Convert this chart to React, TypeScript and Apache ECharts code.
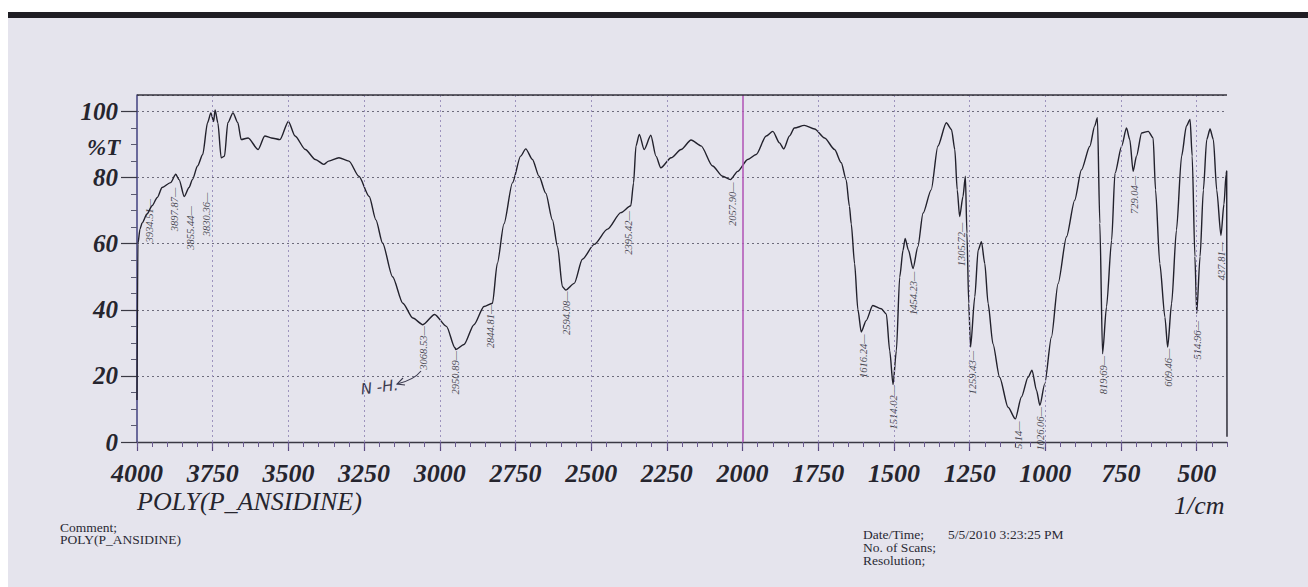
import React, { useEffect, useRef } from "react";
import * as echarts from "echarts";

// ---------- data ----------
// wavenumber (1/cm), %T
const SPECTRUM_OH_NH: [number, number][] = [
  [4000, 12.7], [3997, 60], [3990, 64.5], [3983, 66.3], [3967, 69], [3950, 71.5], [3933, 74],
  [3917, 77], [3889, 78.5], [3872, 81], [3861, 79.4], [3844, 74.3], [3828, 77], [3817, 79.4],
  [3800, 83.5], [3783, 87], [3767, 96.6], [3756, 99.6], [3747, 97], [3742, 100.5], [3733, 96.6],
  [3722, 86], [3711, 86.5], [3700, 96.6], [3683, 99.6], [3667, 96.6], [3656, 91.5], [3633, 92],
  [3600, 88.5], [3578, 92.6], [3556, 92], [3528, 91.5], [3500, 97], [3478, 92.6], [3444, 88.5],
  [3411, 85.5], [3383, 84], [3367, 85], [3333, 86], [3300, 85], [3267, 80.4], [3233, 74.3],
  [3211, 67.2], [3189, 60.2], [3156, 50], [3122, 42], [3089, 37.5], [3056, 35.5], [3017, 38.6],
  [2978, 35], [2950, 28.5],
];
const SPECTRUM_CH_MID: [number, number][] = [
  [2947, 28], [2920, 29.5], [2887, 35.5], [2854, 41], [2826, 42], [2810, 54], [2788, 66],
  [2760, 78.4], [2733, 86.5], [2716, 88.7], [2694, 85.5], [2672, 80.4], [2650, 75.3], [2628, 67.2],
  [2611, 59.1], [2595, 47], [2584, 46], [2556, 48], [2529, 55.3], [2490, 59.8], [2446, 64.4],
  [2402, 69.4], [2369, 71.5], [2360, 78.4], [2352, 89.6], [2341, 93.1], [2325, 88.5], [2303, 92.8],
  [2286, 86.5], [2270, 83], [2236, 86], [2203, 88.5], [2170, 91.4], [2137, 89.6], [2099, 83.5],
  [2066, 80.4], [2040, 79.4], [2016, 81.9], [1983, 85.5], [1955, 87], [1922, 92.6], [1900, 94],
  [1878, 90.5], [1864, 88.7], [1845, 92.6], [1829, 95], [1796, 95.8], [1762, 94.7], [1729, 92],
  [1696, 88.5], [1674, 84.5], [1658, 79.4], [1647, 71.3],
];
const SPECTRUM_FINGERPRINT: [number, number][] = [
  [1641, 66], [1630, 54], [1619, 40], [1608, 33.3], [1592, 36.7], [1570, 41.3], [1542, 40.3],
  [1525, 38.7], [1514, 27.6], [1503, 17.4], [1492, 27.6], [1481, 49.9], [1470, 58], [1463, 61.6],
  [1452, 58], [1437, 52.5], [1421, 59.1], [1404, 69.2], [1377, 76.3], [1355, 89.5], [1327, 96.6],
  [1310, 94.6], [1299, 88.5], [1291, 76.3], [1283, 68.2], [1272, 74.3], [1264, 80.4], [1259, 63.2],
  [1253, 41.9], [1247, 28.7], [1233, 43.9], [1222, 58], [1211, 60.6], [1200, 54], [1189, 41.9],
  [1173, 29.7], [1151, 19.6], [1123, 10.5], [1099, 7], [1079, 13.6], [1057, 19.6], [1044, 21.7],
  [1029, 15.6], [1018, 11.1], [1002, 17.6], [980, 31.7], [958, 47.9], [930, 62.1], [903, 73.2],
  [881, 82.3], [853, 89.5], [837, 95.6], [828, 98.1], [820, 66.2], [811, 26.7], [798, 40.9],
  [781, 61.1], [770, 81.3], [748, 89.5], [732, 95], [721, 91.5], [710, 81.9], [699, 86.5],
  [682, 93.5], [660, 94], [644, 92], [636, 76.3], [622, 54], [605, 37.8], [596, 28.7], [583, 41.9],
  [567, 64.1], [550, 86.5], [534, 95.6], [522, 97.6], [515, 86.5], [506, 56.1], [500, 38.9],
  [489, 56.1], [478, 76.3], [467, 91.5], [456, 94.7], [445, 91.5], [434, 76.3], [420, 62.5],
  [410, 72], [403, 81], [401, 82], [400, 1.6],
];

// peak annotations printed on the chart (text, and where the printed label starts)
const PEAK_LABELS = [
  "3934.51", "3897.87", "3855.44", "3830.36", "3068.53", "2950.89", "2844.81", "2594.08",
  "2395.42", "2057.90", "1616.24", "1514.02", "1454.23", "1305.72", "1259.43", "5.14",
  "1026.06", "819.69", "729.04", "609.46", "514.96", "437.81",
];
const PEAK_WN = [
  3958, 3877, 3822, 3772, 3054, 2947, 2832, 2580, 2378, 2033, 1601, 1503, 1437, 1277, 1242, 1090,
  1015, 809, 707, 594, 497, 418,
];
const PEAK_T = [
  74, 77.4, 71.8, 75.9, 35.5, 28, 42, 46, 70.3, 79, 33, 17.4, 52, 66.8, 28, 6.7, 11, 26.5, 81,
  28.7, 37, 61,
];

const X_MAJOR = [4000, 3750, 3500, 3250, 3000, 2750, 2500, 2250, 2000, 1750, 1500, 1250, 1000, 750, 500];
const X_MINOR = Array.from({ length: 73 }, (_, i) => 4000 - i * 50);
const Y_MAJOR = [0, 20, 40, 60, 80, 100];
const Y_MINOR = [5, 10, 15, 25, 30, 35, 45, 50, 55, 65, 70, 75, 85, 90, 95];

const SERIF = "'Liberation Serif', 'DejaVu Serif', serif";
const INK = "#26252e";

export default function App() {
  const ref = useRef<HTMLDivElement>(null);

  useEffect(() => {
    if (!ref.current) return;
    const chart = echarts.init(ref.current, undefined, { renderer: "svg" });
    const spectrum = [...SPECTRUM_OH_NH, ...SPECTRUM_CH_MID, ...SPECTRUM_FINGERPRINT];

    const gridLines: any[] = X_MAJOR.filter((v) => v !== 4000).map((v) => ({
      xAxis: v,
      lineStyle:
        v === 2000
          ? { color: "#b35ab8", type: "solid", width: 1.6 }
          : { color: "#9d93bd", type: [2, 3], width: 1 },
    }));
    gridLines.push({ yAxis: 105, lineStyle: { color: "#34333c", type: "solid", width: 1.6 } });

    const option: any = {
      animation: false,
      backgroundColor: "transparent",
      grid: { left: 137, right: 81, top: 95, bottom: 145, containLabel: false },
      xAxis: [
        {
          type: "value",
          inverse: true,
          min: 400,
          max: 4000,
          position: "bottom",
          axisLine: { show: true, onZero: false, lineStyle: { color: "#3a3944", width: 1.3 } },
          axisTick: { show: true, customValues: X_MAJOR, length: 9, lineStyle: { color: "#5a4a80", width: 1.2 } },
          axisLabel: {
            show: true,
            customValues: X_MAJOR,
            margin: 18,
            fontSize: 26,
            fontFamily: SERIF,
            fontStyle: "italic",
            fontWeight: "bold",
            color: INK,
            formatter: (v: number) => String(v),
          },
          splitLine: { show: false },
        },
        {
          type: "value",
          inverse: true,
          min: 400,
          max: 4000,
          position: "bottom",
          axisLine: { show: false },
          axisTick: { show: true, customValues: X_MINOR, length: 5, lineStyle: { color: "#6a5a90", width: 1 } },
          axisLabel: { show: false },
          splitLine: { show: false },
        },
      ],
      yAxis: [
        {
          type: "value",
          min: 0,
          max: 105,
          interval: 20,
          axisLine: { show: true, lineStyle: { color: "#4b4a86", width: 1.6 } },
          axisTick: { show: true, length: 16, lineStyle: { color: "#3a3944", width: 1.2 } },
          axisLabel: {
            showMaxLabel: false,
            margin: 19,
            fontSize: 25,
            fontFamily: SERIF,
            fontStyle: "italic",
            fontWeight: "bold",
            color: INK,
            formatter: (v: number) => (Y_MAJOR.includes(v) ? String(v) : ""),
          },
          splitLine: { show: true, lineStyle: { color: "#6d6c7c", type: [2, 3], width: 1 } },
        },
        {
          type: "value",
          min: 0,
          max: 105,
          position: "left",
          axisLine: { show: false },
          axisTick: { show: true, customValues: Y_MINOR, length: 6, lineStyle: { color: "#5a5a70", width: 1 } },
          axisLabel: { show: false },
          splitLine: { show: false },
        },
      ],
      series: [
        {
          type: "line",
          xAxisIndex: 0,
          yAxisIndex: 0,
          data: spectrum,
          showSymbol: false,
          smooth: 0.25,
          smoothMonotone: "x",
          lineStyle: { color: "#22212c", width: 1.4 },
          silent: true,
          markLine: {
            silent: true,
            symbol: "none",
            label: { show: false },
            data: gridLines,
          },
          z: 3,
        },
        {
          type: "scatter",
          xAxisIndex: 0,
          yAxisIndex: 0,
          symbolSize: 1,
          itemStyle: { color: "rgba(0,0,0,0)" },
          silent: true,
          data: PEAK_WN.map((wn, i) => ({ value: [wn, PEAK_T[i]], name: PEAK_LABELS[i] })),
          label: {
            show: true,
            position: "bottom",
            distance: 1,
            rotate: 90,
            align: "right",
            verticalAlign: "middle",
            formatter: "{b}—",
            fontSize: 10.5,
            fontFamily: SERIF,
            fontStyle: "italic",
            color: "#23222c",
            textBorderWidth: 0,
            textBorderColor: "transparent",
          },
          z: 4,
        },
      ],
      graphic: [
        {
          type: "text",
          left: 87,
          top: 136,
          style: { text: "%T", font: `italic bold 23px ${SERIF}`, fill: INK },
        },
        {
          type: "text",
          left: 137,
          top: 488,
          style: { text: "POLY(P_ANSIDINE)", font: `italic 26px ${SERIF}`, fill: INK },
        },
        {
          type: "text",
          left: 1174,
          top: 492,
          style: { text: "1/cm", font: `italic 26px ${SERIF}`, fill: INK },
        },
        {
          type: "text",
          left: 60,
          top: 520,
          style: { text: "Comment;\nPOLY(P_ANSIDINE)", font: `13.5px ${SERIF}`, lineHeight: 12.5, fill: "#2a2a34" },
        },
        {
          type: "text",
          left: 863,
          top: 527,
          style: { text: "Date/Time;\nNo. of Scans;\nResolution;", font: `13.5px ${SERIF}`, lineHeight: 13, fill: "#2a2a34" },
        },
        {
          type: "text",
          left: 948,
          top: 527,
          style: { text: "5/5/2010 3:23:25 PM", font: `13.5px ${SERIF}`, lineHeight: 13, fill: "#2a2a34" },
        },
        {
          type: "text",
          x: 360,
          y: 382,
          rotation: 0.12,
          style: { text: "N -H.", font: `italic 15px 'DejaVu Sans', sans-serif`, fill: "#3b3a4e" },
        },
        {
          type: "bezierCurve",
          shape: { x1: 421, y1: 371, x2: 397, y2: 384, cpx1: 414, cpy1: 380 },
          style: { stroke: "#3b3a4e", lineWidth: 1.1, fill: "none" },
        },
        {
          type: "polyline",
          shape: { points: [[403, 378], [397, 384], [405, 385]] },
          style: { stroke: "#3b3a4e", lineWidth: 1.1, fill: "none" },
        },
      ],
    };

    chart.setOption(option);
    return () => chart.dispose();
  }, []);

  return (
    <div style={{ position: "fixed", left: 0, top: 0, width: 1308, height: 587, background: "#ffffff" }}>
      <div style={{ position: "absolute", left: 8, top: 13, right: 0, bottom: 0, background: "#e5e4ed" }} />
      <div style={{ position: "absolute", left: 8, top: 12, right: 0, height: 6, background: "#1f1e24" }} />
      <div ref={ref} style={{ position: "absolute", left: 0, top: 0, width: 1308, height: 587 }} />
    </div>
  );
}
